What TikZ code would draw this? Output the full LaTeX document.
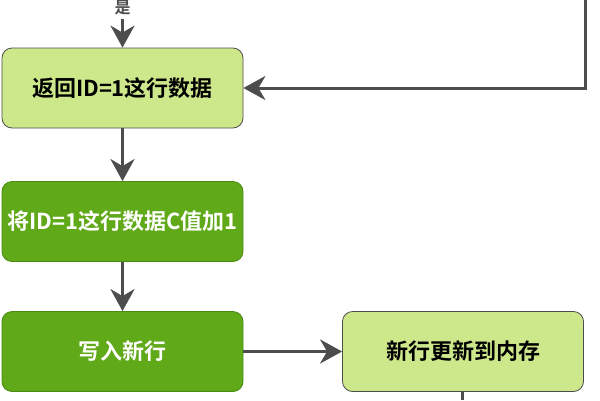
\documentclass[tikz,border=0pt]{standalone}
\usepackage{fontspec}
\setmainfont{Noto Sans CJK SC}
\newfontfamily\cjkb{Noto Sans CJK SC Bold}
\usetikzlibrary{arrows.meta}
\definecolor{lightg}{HTML}{CDE88B}
\definecolor{darkg}{HTML}{60A918}
\definecolor{darkgb}{HTML}{4A8A14}
\definecolor{edge}{HTML}{4D4D4D}
\tikzset{
  x=1pt, y=1pt,
  lightbox/.style={draw=edge, line width=0.8pt, fill=lightg, rounded corners=10pt,
    minimum width=241pt, minimum height=80pt, inner sep=0pt,
    font=\cjkb\fontsize{22}{25}\selectfont, text=black},
  darkbox/.style={draw=darkgb, line width=0.8pt, fill=darkg, rounded corners=10pt,
    minimum width=241pt, minimum height=80pt, inner sep=0pt,
    font=\cjkb\fontsize{22}{25}\selectfont, text=white},
  conn/.style={draw=edge, line width=3pt,
    -{Stealth[length=22pt,width=24pt,inset=7pt]}},
  plain/.style={draw=edge, line width=3pt},
}
\begin{document}
\begin{tikzpicture}
\useasboundingbox (0,0) rectangle (600,-400);
\node[lightbox] (b1) at (122.5,-88) {返回ID=1这行数据};
\node[darkbox] (b2) at (122.5,-221.5) {将ID=1这行数据C值加1};
\node[darkbox] (b3) at (122.5,-351.5) {写入新行};
\node[lightbox] (b4) at (463,-351.5) {新行更新到内存};
\coordinate (top) at (122.5,-19);
\node[font=\cjkb\fontsize{16}{18}\selectfont, text=edge, inner sep=1pt] (yes) at (122.5,-8) {是};
\coordinate (rtop) at (585,0);
\coordinate (rcorner) at (585,-88);
\coordinate (bot) at (462,-400);
\draw[conn] (top) -- (b1.north);
\draw[conn] (rtop) -- (rcorner) -- (b1.east);
\draw[conn] (b1.south) -- (b2.north);
\draw[conn] (b2.south) -- (b3.north);
\draw[conn] (b3.east) -- (b4.west);
\draw[plain] (b4.south -| bot) -- (bot);
\end{tikzpicture}
\end{document}
